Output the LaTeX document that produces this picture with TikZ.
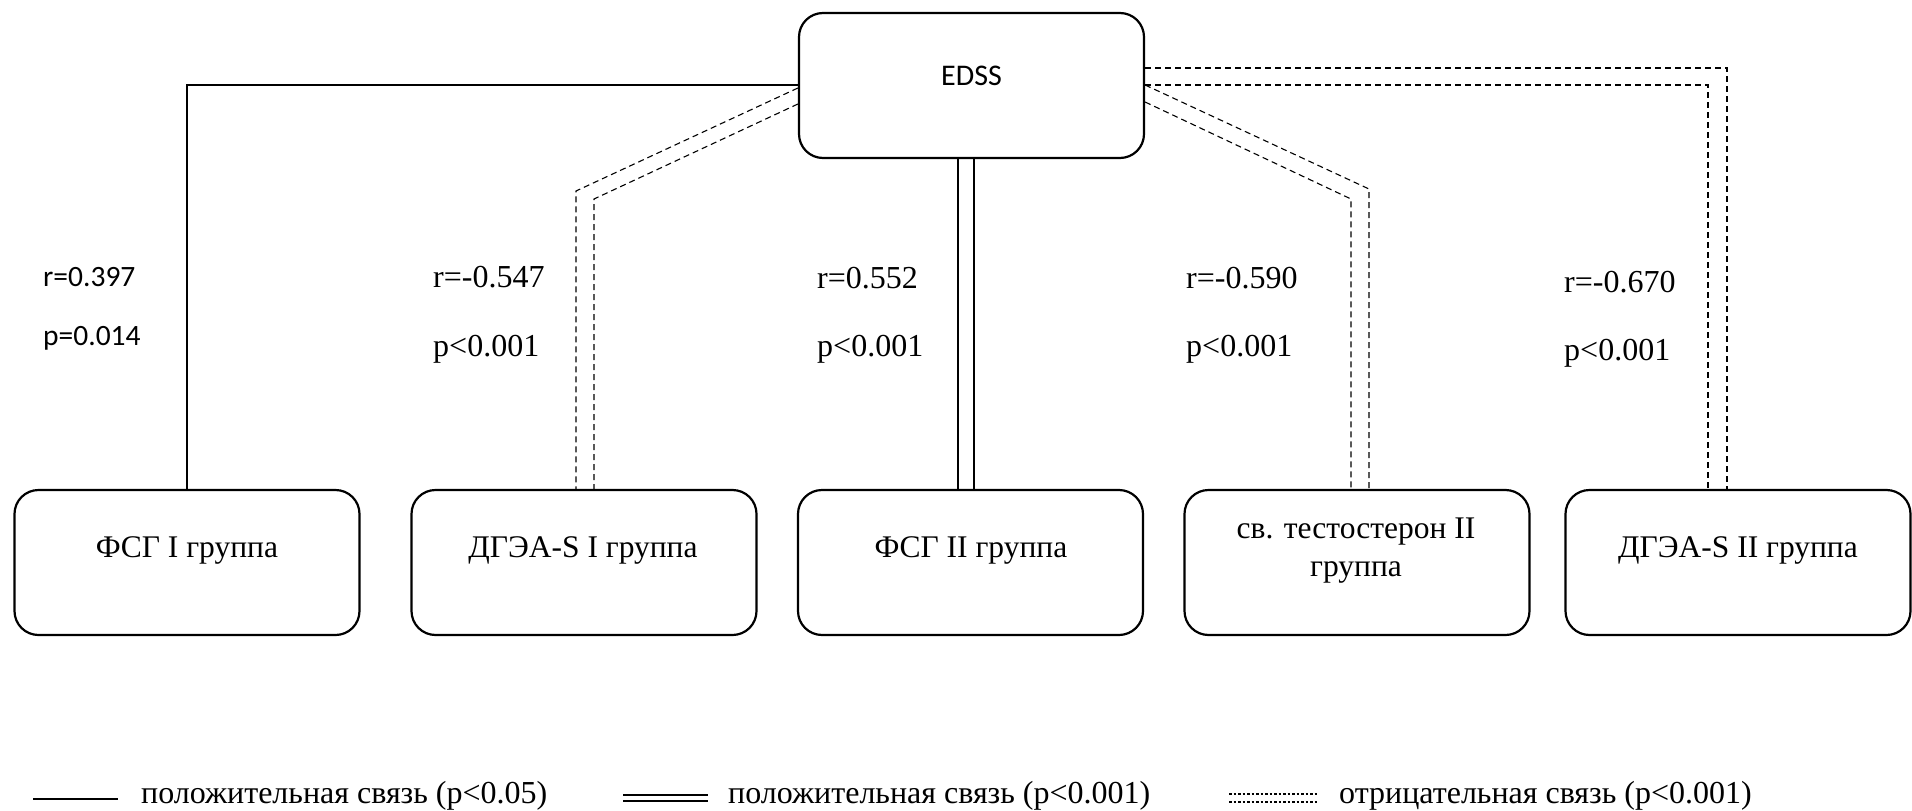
\documentclass[tikz,border=0pt]{standalone}
\usepackage{fontspec}
\setmainfont{Liberation Serif}
\newfontfamily\calibrifont{Carlito}
\begin{document}
\begin{tikzpicture}[x=1pt,y=-1pt,
 box/.style={draw, line width=2.2pt, rounded corners=24pt, minimum width=345pt, minimum height=145pt, inner sep=0pt},
 boxtext/.style={align=center, font=\fontsize{31.5}{38}\selectfont, inner sep=0pt},
 conn/.style={line width=1.1pt},
 dconn/.style={line width=1.1pt, dash pattern=on 6pt off 4pt},
 lab/.style={anchor=west, font=\fontsize{32}{38}\selectfont, inner sep=0pt},
 slab/.style={anchor=west, font=\calibrifont\fontsize{29.5}{35}\selectfont, inner sep=0pt}]
\useasboundingbox (0,0) rectangle (1912,811);

% boxes
\node[box] (edss) at (971.5,85.5) {};
\node[font=\calibrifont\fontsize{30}{36}\selectfont, inner sep=0pt] (edsst) at (971.5,76) {EDSS};
\node[box] (b1) at (187,562.5) {};
\node[box] (b2) at (584,562.5) {};
\node[box] (b3) at (970.5,562.5) {};
\node[box] (b4) at (1357,562.5) {};
\node[box] (b5) at (1738,562.5) {};
\node[boxtext] (b1t) at (187,550) {ФСГ I группа};
\node[boxtext] (b2t) at (583,550) {ДГЭА-S I группа};
\node[boxtext] (b3t) at (971,550) {ФСГ II группа};
\node[boxtext] (b4t) at (1356,551) {св. тестостерон II\\группа};
\node[boxtext] (b5t) at (1738,550) {ДГЭА-S II группа};

% connectors
\draw[conn] (edss.west |- 0,85) -| (b1.north);
\draw[dconn] (edss.west |- 0,88) -- (576,191) -- (b2.north -| 576,0);
\draw[dconn] (edss.west |- 0,104) -- (594,199) -- (b2.north -| 594,0);
\draw[conn] (edss.south -| 958,0) -- (b3.north -| 958,0);
\draw[conn] (edss.south -| 974,0) -- (b3.north -| 974,0);
\draw[dconn] (edss.east |- 0,85) -- (1369,189) -- (b4.north -| 1369,0);
\draw[dconn] (edss.east |- 0,102) -- (1351,199) -- (b4.north -| 1351,0);
\draw[dconn] (edss.east |- 0,68) -| (b5.north -| 1727,0);
\draw[dconn] (edss.east |- 0,85) -| (b5.north -| 1708,0);

% labels
\node[slab] (r1) at (43,277) {r=0.397};
\node[slab] (p1) at (43,338) {p=0.014};
\node[lab] (r2) at (433,277) {r=-0.547};
\node[lab] (p2) at (433,349) {p<0.001};
\node[lab] (r3) at (817,278) {r=0.552};
\node[lab] (p3) at (817,349) {p<0.001};
\node[lab] (r4) at (1186,278) {r=-0.590};
\node[lab] (p4) at (1186,349) {p<0.001};
\node[lab] (r5) at (1564,282) {r=-0.670};
\node[lab] (p5) at (1564,353) {p<0.001};

% legend
\draw[line width=1.2pt] (33,799) -- (118,799);
\node[lab] (l1) at (141,796) {положительная связь (p<0.05)};
\draw[line width=1.2pt] (623,795) -- (708,795);
\draw[line width=1.2pt] (623,801) -- (708,801);
\node[lab] (l2) at (728,796) {положительная связь (p<0.001)};
\draw[line width=1.1pt, dash pattern=on 2.5pt off 2pt] (1229,794) -- (1317,794);
\draw[line width=1.1pt, dash pattern=on 2.5pt off 2pt] (1229,802) -- (1317,802);
\node[lab] (l3) at (1339,796) {отрицательная связь (p<0.001)};
\end{tikzpicture}
\end{document}
